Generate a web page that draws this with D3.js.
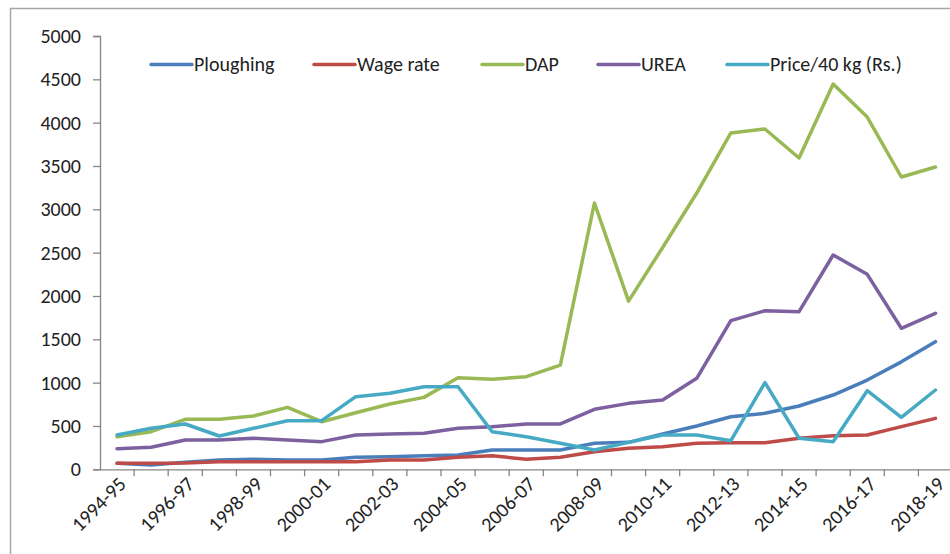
<!DOCTYPE html>
<html><head><meta charset="utf-8">
<script src="https://cdn.jsdelivr.net/npm/d3@7"></script>
<style>body{margin:0;background:#fff;}svg{display:block;font-family:Carlito,Calibri,"Open Sans",sans-serif;}</style>
</head><body><svg id="c" width="950" height="554"></svg>
<script>
const categories = ["1994-95","1995-96","1996-97","1997-98","1998-99","1999-00","2000-01","2001-02","2002-03","2003-04","2004-05","2005-06","2006-07","2007-08","2008-09","2009-10","2010-11","2011-12","2012-13","2013-14","2014-15","2015-16","2016-17","2017-18","2018-19"];
const ploughing = [69,50,81,107,115,107,107,138,145,157,165,223,223,223,300,311,407,500,607,646,730,857,1030,1240,1473];
const wageRate  = [69,69,73,88,88,88,88,88,107,107,138,157,115,138,203,242,261,300,307,307,358,388,396,492,588];
const dap       = [376,434,577,577,615,715,549,653,753,830,1057,1038,1069,1203,3073,1940,2560,3188,3881,3927,3592,4445,4065,3373,3488];
const urea      = [238,254,338,338,358,338,319,396,407,415,473,492,523,523,692,761,800,1050,1715,1830,1819,2473,2250,1627,1800];
const price     = [396,473,523,384,473,561,561,838,877,953,953,434,376,300,223,311,396,396,330,1000,358,319,907,600,915];
const seriesNames = ["Ploughing","Wage rate","DAP","UREA","Price/40 kg (Rs.)"];
const seriesColors = ["#4a7ebb","#be4b48","#98b954","#7d60a0","#46aac5"];
const yTicks = [0,500,1000,1500,2000,2500,3000,3500,4000,4500,5000];
const xLabelEvery = 2;

const FONT = "Carlito,Calibri,'Open Sans',sans-serif";
const FS = 20;
const svg = d3.select("#c");
// outer chart border
svg.append("rect").attr("x",10.5).attr("y",8.5).attr("width",960).attr("height",560)
  .attr("fill","none").attr("stroke","#a6a6a6").attr("stroke-width",1.5);

const x = d3.scaleBand().domain(categories).range([100,952.5]);
const y = d3.scaleLinear().domain([0,5000]).range([469.3,36]);

const axisColor = "#868686";
// y axis
const ya = svg.append("g").attr("transform","translate(100,0)")
  .call(d3.axisLeft(y).tickValues(yTicks).tickSize(7).tickPadding(12).tickFormat(d3.format("d")));
ya.select(".domain").attr("stroke",axisColor).attr("stroke-width",1.3);
ya.selectAll(".tick line").attr("stroke",axisColor).attr("stroke-width",1.3);
ya.selectAll(".tick text").attr("font-size",FS).attr("fill","#222").attr("font-family",FONT);

// x axis
const xa = svg.append("g").attr("transform","translate(0,469.3)")
  .call(d3.axisBottom(x).tickSize(0).tickFormat((d,i)=> i%xLabelEvery===0 ? d : ""));
xa.select(".domain").attr("stroke",axisColor).attr("stroke-width",1.3);
xa.selectAll(".tick text").attr("font-size",FS).attr("fill","#222").attr("font-family",FONT)
  .attr("text-anchor","end").attr("dy",0)
  .attr("transform","translate(8,14) rotate(-45)");
// boundary tick marks
const bounds = categories.map(c=>x(c)).concat([x(categories[categories.length-1])+x.bandwidth()]);
xa.selectAll("line.bt").data(bounds.slice(1)).enter().append("line").attr("class","bt")
  .attr("x1",d=>d).attr("x2",d=>d).attr("y1",0).attr("y2",7)
  .attr("stroke",axisColor).attr("stroke-width",1.3);

const allSeries = [ploughing,wageRate,dap,urea,price];
const line = d3.line().x((d,i)=>x(categories[i])+x.bandwidth()/2).y(d=>y(d));
[0,1,2,3,4].forEach(k=>{
  svg.append("path").datum(allSeries[k]).attr("d",line).attr("fill","none")
    .attr("stroke",seriesColors[k]).attr("stroke-width",3.5)
    .attr("stroke-linejoin","round").attr("stroke-linecap","round");
});

// legend
const legX = [151,314,482,598,727];
const lg = svg.append("g");
seriesNames.forEach((n,k)=>{
  lg.append("line").attr("x1",legX[k]).attr("x2",legX[k]+41).attr("y1",64.5).attr("y2",64.5)
    .attr("stroke",seriesColors[k]).attr("stroke-width",3.5).attr("stroke-linecap","round");
  lg.append("text").attr("x",legX[k]+43).attr("y",71).attr("font-size",FS).attr("fill","#222")
    .attr("font-family",FONT).text(n);
});
</script></body></html>
